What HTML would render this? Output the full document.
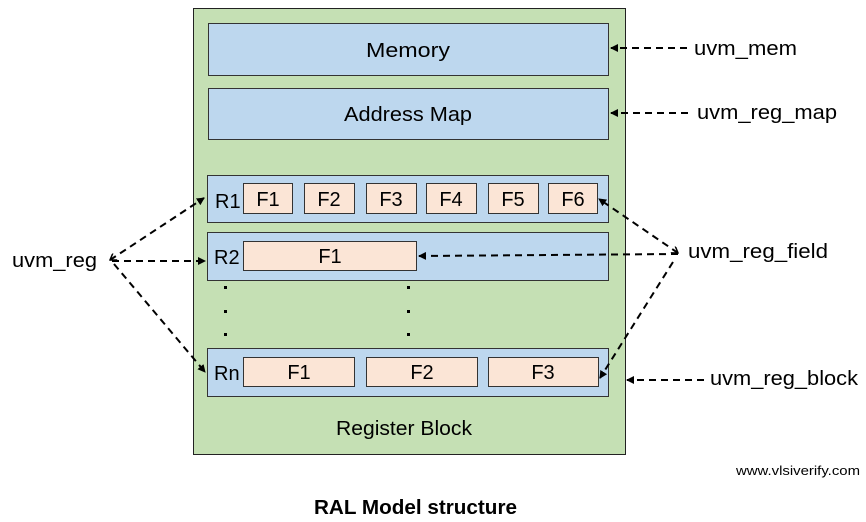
<!DOCTYPE html>
<html><head><meta charset="utf-8"><style>
html,body{margin:0;padding:0;background:#fff;}
svg{display:block;}
text{font-family:"Liberation Sans",sans-serif;fill:#000;}
</style></head><body>
<svg width="866" height="522" viewBox="0 0 866 522" xmlns="http://www.w3.org/2000/svg">
<defs>
<marker id="a" markerWidth="8" markerHeight="8" refX="7" refY="4" orient="auto" markerUnits="userSpaceOnUse">
<path d="M0,0 L8,4 L0,8 z" fill="#000"/></marker>
<marker id="o" markerWidth="8" markerHeight="8" refX="1" refY="4" orient="auto" markerUnits="userSpaceOnUse">
<path d="M7,0 L1,4 L7,8" fill="none" stroke="#000" stroke-width="1.5"/></marker>
</defs>
<rect x="193.5" y="8.5" width="432" height="446" fill="#c5e0b4" stroke="#222" stroke-width="1"/>
<g stroke="#333" stroke-width="1">
<rect x="208.5" y="23.5" width="400" height="52" fill="#bdd7ee"/>
<rect x="208.5" y="88.5" width="400" height="51" fill="#bdd7ee"/>
<rect x="207.5" y="175.5" width="401" height="47" fill="#bdd7ee"/>
<rect x="207.5" y="232.5" width="401" height="48" fill="#bdd7ee"/>
<rect x="207.5" y="348.5" width="401" height="48" fill="#bdd7ee"/>
<g fill="#fbe5d6">
<rect x="243.5" y="183.5" width="49" height="30"/>
<rect x="304.5" y="183.5" width="50" height="30"/>
<rect x="366.5" y="183.5" width="50" height="30"/>
<rect x="426.5" y="183.5" width="50" height="30"/>
<rect x="488.5" y="183.5" width="50" height="30"/>
<rect x="548.5" y="183.5" width="49" height="30"/>
<rect x="243.5" y="241.5" width="173" height="29"/>
<rect x="243.5" y="357.5" width="111" height="29"/>
<rect x="366.5" y="357.5" width="111" height="29"/>
<rect x="488.5" y="357.5" width="110" height="29"/>
</g></g>
<g font-size="20">
<text x="366" y="57" textLength="84" lengthAdjust="spacingAndGlyphs">Memory</text>
<text x="344" y="121" textLength="128" lengthAdjust="spacingAndGlyphs">Address Map</text>
<text x="336" y="435" textLength="136" lengthAdjust="spacingAndGlyphs">Register Block</text>
</g>
<g font-size="20" text-anchor="middle">
<text x="268" y="206">F1</text><text x="329" y="206">F2</text><text x="391" y="206">F3</text>
<text x="451" y="206">F4</text><text x="513" y="206">F5</text><text x="573" y="206">F6</text>
<text x="330" y="263">F1</text>
<text x="299" y="379">F1</text><text x="422" y="379">F2</text><text x="543" y="379">F3</text>
</g>
<g font-size="20">
<text x="215" y="208">R1</text><text x="214" y="264">R2</text><text x="214" y="380">Rn</text>
<text x="12" y="267" textLength="85" lengthAdjust="spacingAndGlyphs">uvm_reg</text>
<text x="694" y="55" textLength="103" lengthAdjust="spacingAndGlyphs">uvm_mem</text>
<text x="697" y="119" textLength="140" lengthAdjust="spacingAndGlyphs">uvm_reg_map</text>
<text x="688" y="258" textLength="140" lengthAdjust="spacingAndGlyphs">uvm_reg_field</text>
<text x="710" y="385" textLength="148" lengthAdjust="spacingAndGlyphs">uvm_reg_block</text>
</g>
<text x="736" y="475" font-size="13" textLength="124" lengthAdjust="spacingAndGlyphs">www.vlsiverify.com</text>
<text x="314" y="514" font-size="20" font-weight="bold" textLength="203" lengthAdjust="spacingAndGlyphs">RAL Model structure</text>
<g fill="#000">
<rect x="224" y="286" width="3" height="3"/><rect x="224" y="310" width="3" height="3"/><rect x="224" y="333" width="3" height="3"/>
<rect x="407" y="286" width="3" height="3"/><rect x="407" y="310" width="3" height="3"/><rect x="407" y="333" width="3" height="3"/>
</g>
<g stroke="#000" stroke-width="2" stroke-dasharray="7,5" fill="none">
<line x1="687" y1="48" x2="611" y2="48" marker-end="url(#a)"/>
<line x1="688" y1="113" x2="611" y2="113" marker-end="url(#a)"/>
<line x1="704" y1="380" x2="627" y2="380" marker-end="url(#a)"/>
<line x1="678" y1="253" x2="599" y2="199" marker-end="url(#a)" marker-start="url(#o)"/>
<line x1="678" y1="254" x2="419" y2="256" marker-end="url(#a)"/>
<line x1="673" y1="262" x2="600" y2="378" marker-end="url(#a)"/>
<line x1="110" y1="260" x2="204" y2="198" marker-end="url(#a)" marker-start="url(#o)"/>
<line x1="112" y1="261" x2="205" y2="261" marker-end="url(#a)"/>
<line x1="114" y1="264" x2="205" y2="372" marker-end="url(#a)"/>
</g>
</svg>
</body></html>
